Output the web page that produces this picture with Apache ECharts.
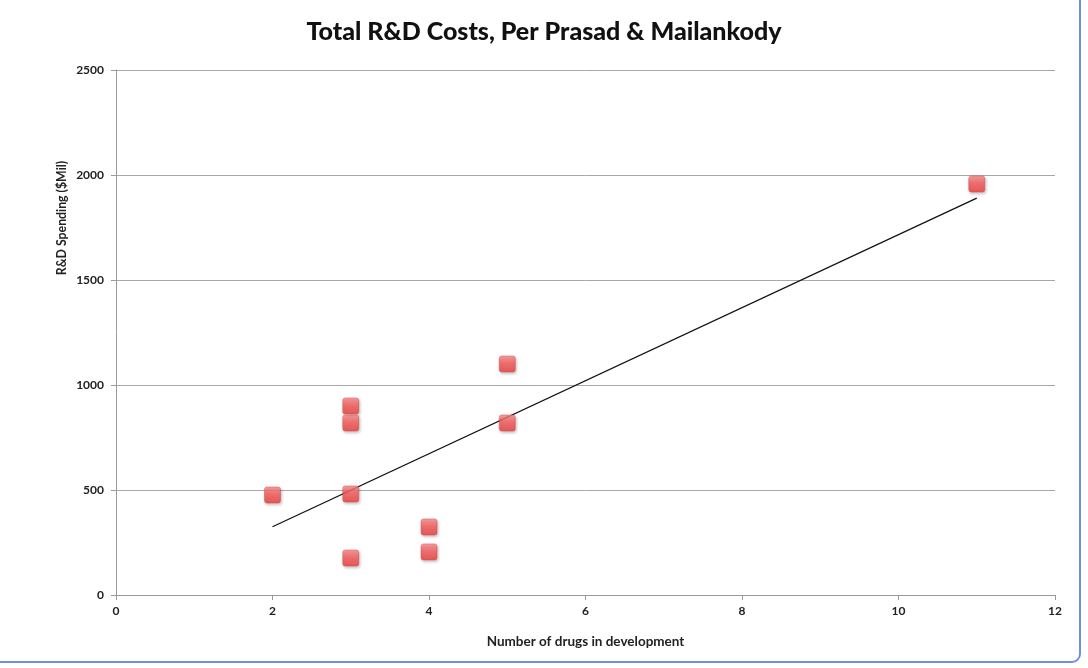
<!DOCTYPE html>
<html>
<head>
<meta charset="utf-8">
<script src="https://cdn.jsdelivr.net/npm/echarts@6/dist/echarts.min.js"></script>
<style>
html,body{margin:0;padding:0;background:#fff;}
#chart{width:1088px;height:668px;}
</style>
</head>
<body>
<div id="chart"></div>
<script>
const titleText = 'Total R&D Costs, Per Prasad & Mailankody';
const xAxisName = 'Number of drugs in development';
const yAxisName = 'R&D Spending ($Mil)';
const drugsX = [2, 3, 3, 3, 3, 4, 4, 5, 5, 11];
const spendY = [476, 900, 819, 481, 176, 324, 205, 1100, 819, 1957];
const trendX = [2, 11];
const trendY = [325, 1890];

const font = 'Lato, "Open Sans", sans-serif';
const chart = echarts.init(document.getElementById('chart'));
chart.setOption({
  backgroundColor: '#fff',
  animation: false,
  title: {
    text: titleText,
    left: 'center',
    top: 14,
    textStyle: { fontFamily: font, fontWeight: 900, fontSize: 25, color: '#111' }
  },
  grid: { left: 116, right: 33, top: 70, bottom: 73 },
  xAxis: {
    type: 'value', min: 0, max: 12, interval: 2,
    name: xAxisName, nameLocation: 'middle', nameGap: 40,
    nameTextStyle: { fontFamily: font, fontWeight: 'bold', fontSize: 13.5, color: '#222' },
    axisLine: { show: true, lineStyle: { color: '#999', width: 1 } },
    axisTick: { show: true, length: 5, lineStyle: { color: '#999' } },
    axisLabel: { fontFamily: font, fontWeight: 'bold', fontSize: 12, color: '#222', margin: 10 },
    splitLine: { show: false }
  },
  yAxis: {
    type: 'value', min: 0, max: 2500, interval: 500,
    axisLine: { show: true, lineStyle: { color: '#999', width: 1 } },
    axisTick: { show: true, length: 5, lineStyle: { color: '#999' } },
    axisLabel: { fontFamily: font, fontWeight: 'bold', fontSize: 12, color: '#222', margin: 12,
                 formatter: v => String(v) },
    splitLine: { show: true, lineStyle: { color: '#a8a8a8', width: 1 } }
  },
  graphic: [
    {
      type: 'text', x: 62, y: 218, rotation: Math.PI / 2,
      style: { text: yAxisName, fontFamily: font, fontWeight: 'bold', fontSize: 12.3, fill: '#222',
               textAlign: 'center', textVerticalAlign: 'middle' }
    },
    {
      type: 'rect', silent: true, z: -1,
      shape: { x: -20, y: -20, width: 1100, height: 682, r: 8 },
      style: { fill: 'none', stroke: '#6f8fe0', lineWidth: 2 }
    }
  ],
  series: [
    {
      type: 'line',
      data: trendX.map((x, i) => [x, trendY[i]]),
      symbol: 'none',
      lineStyle: { color: '#111', width: 1.3 },
      z: 2
    },
    {
      type: 'scatter',
      data: drugsX.map((x, i) => [x, spendY[i]]),
      symbol: 'path://M2.5,0 H13.5 Q16,0 16,2.5 V13.5 Q16,16 13.5,16 H2.5 Q0,16 0,13.5 V2.5 Q0,0 2.5,0 Z',
      symbolSize: 16,
      itemStyle: {
        color: new echarts.graphic.LinearGradient(0, 0, 0, 1, [
          { offset: 0, color: '#ff9090' },
          { offset: 0.45, color: '#f75858' },
          { offset: 1, color: '#ec3c3c' }
        ]),
        borderColor: '#e04848', borderWidth: 0.6,
        shadowBlur: 3, shadowColor: 'rgba(0,0,0,0.3)', shadowOffsetX: 1, shadowOffsetY: 1.5
      },
      z: 3
    }
  ]
});
</script>
</body>
</html>
